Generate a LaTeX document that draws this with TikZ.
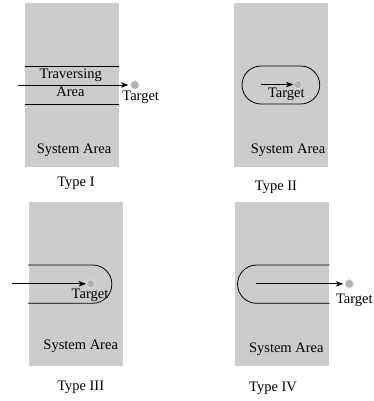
\documentclass[tikz,border=0pt]{standalone}
\usepackage{fontspec}
\setmainfont{Liberation Serif}
\usetikzlibrary{arrows.meta}
\begin{document}
\begin{tikzpicture}[x=1pt,y=-1pt,
  sysarea/.style={fill=black!20,draw=none},
  bound/.style={line width=0.8pt},
  movearrow/.style={line width=0.8pt,-{Stealth[length=7.5pt,width=5.5pt]}},
  tgt/.style={circle,fill=black!30,draw=black!12,line width=0.8pt,minimum size=8.5pt,inner sep=0pt},
  lbl/.style={inner sep=0pt,font=\fontsize{14.5}{16}\selectfont}]
\useasboundingbox (0,0) rectangle (374,401);
% Type I
\fill[sysarea] (25,3.3) rectangle (119.3,166.7);
\draw[bound] (25,66) -- (119.3,66);
\draw[bound] (25,104) -- (119.3,104);
\node[tgt] (t1) at (135,85) {};
\coordinate (s1) at (17.7,85);
\draw[movearrow,shorten >=2pt] (s1) -- (t1.west);
\node[lbl] (tr1) at (70.7,75.5) {Traversing};
\node[lbl] (ar1) at (70.5,92) {Area};
\node[lbl] (tl1) at (140.7,97) {Target};
\node[lbl] (sa1) at (74,150.5) {System Area};
\node[lbl] (ty1) at (76,183.5) {Type I};
% Type II
\fill[sysarea] (234,3.3) rectangle (328,166.7);
\draw[bound] (261,66) -- (300.7,66) arc[start angle=-90,end angle=90,radius=19] -- (261,104) arc[start angle=90,end angle=270,radius=19] -- cycle;
\node[tgt] (t2) at (298,84.5) {};
\coordinate (s2) at (261,84.5);
\draw[movearrow] (s2) -- (t2.west);
\node[lbl] (tl2) at (286.3,94.5) {Target};
\node[lbl] (sa2) at (288,150) {System Area};
\node[lbl] (ty2) at (276,187.5) {Type II};
% Type III
\fill[sysarea] (29.3,202.3) rectangle (123.3,365.7);
\draw[bound] (28,265) -- (92.7,265) arc[start angle=-90,end angle=90,radius=19.15] -- (28,303.3);
\node[tgt] (t3) at (90.7,283.8) {};
\coordinate (s3) at (12.3,283.8);
\draw[movearrow] (s3) -- (t3.west);
\node[lbl] (tl3) at (90,295.5) {Target};
\node[lbl] (sa3) at (80.7,346.5) {System Area};
\node[lbl] (ty3) at (80.7,387.5) {Type III};
% Type IV
\fill[sysarea] (235.3,202.3) rectangle (328.7,365.7);
\draw[bound] (329.7,265) -- (256.7,265) arc[start angle=270,end angle=90,radius=19.15] -- (329.7,303.3);
\node[tgt] (t4) at (349.3,283.8) {};
\coordinate (s4) at (256,283.8);
\draw[movearrow,shorten >=1.5pt] (s4) -- (t4.west);
\node[lbl] (tl4) at (354.3,300.5) {Target};
\node[lbl] (sa4) at (286.3,349.5) {System Area};
\node[lbl] (ty4) at (273,388) {Type IV};
\end{tikzpicture}
\end{document}
